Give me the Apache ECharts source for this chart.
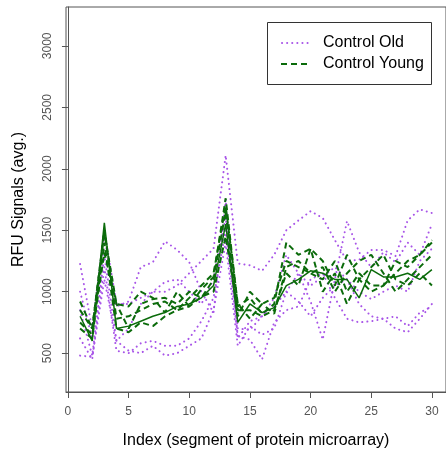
<!DOCTYPE html>
<html>
<head>
<meta charset="utf-8">
<script src="https://cdn.jsdelivr.net/npm/echarts@6/dist/echarts.min.js"></script>
<style>
  html, body { margin: 0; padding: 0; background: #fff; }
  #chart { width: 446px; height: 457px; }
</style>
</head>
<body>
<div id="chart"></div>
<script>
// segment index 1..30
var xs = [1,2,3,4,5,6,7,8,9,10,11,12,13,14,15,16,17,18,19,20,21,22,23,24,25,26,27,28,29,30];
var xTicks = [0, 5, 10, 15, 20, 25, 30];
var yTicks = [500, 1000, 1500, 2000, 2500, 3000];

// Control Old (purple dotted)
var old1 = [1225,700,1500,900,900,950,1000,1000,1050,1150,1250,1350,2110,1230,1215,1170,1300,1500,1580,1655,1600,1420,1250,1260,1340,1340,1290,1580,1670,1640];
var old2 = [1000,620,1450,880,920,1200,1240,1410,1340,1240,1000,830,1750,620,760,800,950,1300,1150,920,610,1100,1575,1320,1200,1320,1240,1400,1300,1550];
var old3 = [850,480,1300,600,700,900,1000,1080,1100,1000,900,1100,1600,700,690,800,880,1000,920,800,950,1050,1100,900,800,780,800,720,830,880];
var old4 = [620,450,1200,520,500,580,600,560,560,620,760,950,1500,640,610,450,750,850,880,1100,1150,950,780,750,760,780,700,670,780,900];
var old5 = [480,470,1100,600,520,500,560,480,500,560,620,850,1400,560,720,650,700,1000,1150,1050,1120,1200,1100,1000,940,1000,1050,1000,1250,1350];

// Control Young (green dashed), first one drawn solid
var young1 = [800,600,1560,700,720,760,800,830,880,900,950,1050,1550,750,900,830,870,1050,1100,1170,1150,1100,1100,950,1180,1120,1120,1150,1100,1180];
var young2 = [920,700,1480,900,880,1000,950,830,1000,880,1020,1120,1760,880,950,820,900,1400,1300,1350,1250,1050,1300,1100,1000,1050,1250,1200,1300,1420];
var young3 = [750,650,1320,900,700,900,940,950,900,1000,950,1100,1650,800,1000,900,950,1250,1200,1150,1200,1000,1150,1250,1300,1150,1000,1100,1200,1300];
var young4 = [700,620,1400,700,670,750,720,800,850,880,960,1000,1450,850,850,800,850,1150,1050,1350,1000,1150,900,1100,1200,1300,1100,1050,1150,1050];
var young5 = [850,700,1500,780,800,850,900,920,850,950,1050,1150,1700,900,780,900,820,1200,1250,1150,1100,1250,1000,1150,1050,1050,1150,1250,1300,1400];

var purple = '#a855e8';
var green = '#0b6b0b';
var dots = [0.1, 5];

function pairs(vals) {
  return xs.map(function (x, i) { return [x, vals[i]]; });
}

function oldSeries(vals) {
  return {
    name: 'Control Old', type: 'line', data: pairs(vals), showSymbol: false,
    lineStyle: { color: purple, width: 2, type: dots, cap: 'round' },
    itemStyle: { color: purple }, silent: true, animation: false
  };
}
function youngSeries(vals, solid) {
  return {
    name: 'Control Young', type: 'line', data: pairs(vals), showSymbol: false,
    lineStyle: { color: green, width: solid ? 1.5 : 2, type: solid ? 'solid' : [6, 4] },
    itemStyle: { color: green }, silent: true, animation: false
  };
}

var chart = echarts.init(document.getElementById('chart'));
var axisGrey = '#555';

chart.setOption({
  animation: false,
  grid: { left: 66, top: 7, width: 388, height: 385, show: true, borderColor: axisGrey, borderWidth: 1 },
  xAxis: {
    type: 'value', min: -0.16, max: 31.16,
    name: 'Index (segment of protein microarray)', nameLocation: 'middle', nameGap: 41,
    nameTextStyle: { fontFamily: 'Liberation Sans', fontSize: 16, color: '#000' },
    axisLine: { show: true, lineStyle: { color: axisGrey } },
    axisTick: { show: true, length: 6, lineStyle: { color: axisGrey }, customValues: xTicks },
    axisLabel: { customValues: xTicks, color: '#555', fontFamily: 'Liberation Sans', fontSize: 12, margin: 14 },
    splitLine: { show: false }
  },
  yAxis: {
    type: 'value', min: 184, max: 3316,
    name: 'RFU Signals (avg.)', nameLocation: 'middle', nameGap: 39,
    nameTextStyle: { fontFamily: 'Liberation Sans', fontSize: 16, color: '#000' },
    axisLine: { show: true, lineStyle: { color: axisGrey } },
    axisTick: { show: true, length: 6, lineStyle: { color: axisGrey }, customValues: yTicks },
    axisLabel: { customValues: yTicks, rotate: 90, color: '#555', fontFamily: 'Liberation Sans', fontSize: 12, margin: 12,
      formatter: function (v) { return String(v); } },
    splitLine: { show: false }
  },
  graphic: [
    { type: 'rect', shape: { x: 267.5, y: 22.5, width: 164, height: 62 },
      style: { fill: '#fff', stroke: '#333', lineWidth: 1 }, z: 100 },
    { type: 'line', shape: { x1: 282, y1: 43, x2: 308, y2: 43 },
      style: { stroke: purple, lineWidth: 2, lineDash: dots, lineCap: 'round' }, z: 101 },
    { type: 'line', shape: { x1: 281, y1: 64, x2: 309, y2: 64 },
      style: { stroke: green, lineWidth: 2, lineDash: [6, 4] }, z: 101 },
    { type: 'text', x: 323, y: 43, z: 101,
      style: { text: 'Control Old', fill: '#000', font: '16px "Liberation Sans"', verticalAlign: 'middle' } },
    { type: 'text', x: 323, y: 64, z: 101,
      style: { text: 'Control Young', fill: '#000', font: '16px "Liberation Sans"', verticalAlign: 'middle' } }
  ],
  series: [
    oldSeries(old1), oldSeries(old2), oldSeries(old3), oldSeries(old4), oldSeries(old5),
    youngSeries(young2), youngSeries(young3), youngSeries(young4), youngSeries(young5),
    youngSeries(young1, true)
  ]
});
</script>
</body>
</html>
